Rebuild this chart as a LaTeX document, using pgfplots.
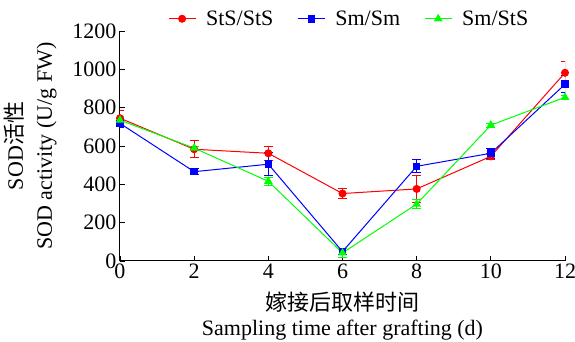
\documentclass[border=0pt]{standalone}
\usepackage{fontspec}
\setmainfont{Liberation Serif}
\newfontfamily\cjk{Noto Sans CJK SC}
\usepackage{pgfplots}
\pgfplotsset{compat=1.18}
\begin{document}
\begin{tikzpicture}
\begin{axis}[
  at={(0,0)}, anchor=origin,
  scale only axis, width=445pt, height=230pt,
  font=\fontsize{22}{26}\selectfont,
  xmin=0, xmax=12, ymin=0, ymax=1200,
  axis x line*=bottom, axis y line*=left,
  axis line style={line width=1pt},
  xtick={0,2,...,12}, ytick={0,200,...,1200},
  tick align=inside, major tick length=5pt,
  tick style={line width=0.8pt, black},
  xticklabels={0,2,4,6,8,10,12},
  yticklabels={0,200,400,600,800,1000,1200},
  every tick label/.append style={font=\fontsize{22}{26}\selectfont},
  xticklabel style={yshift=1pt},
  label style={font=\fontsize{22}{26}\selectfont},
  xlabel={{\cjk 嫁接后取样时间}\\[-1pt]Sampling time after grafting (d)},
  xlabel style={align=center, yshift=-7pt},
  ylabel={SOD{\cjk 活性}\\[3pt]SOD activity (U/g FW)},
  ylabel style={align=center, yshift=9pt},
  legend style={at={(0.515,1.0)}, anchor=south, draw=none, fill=none,
    font=\fontsize{22}{26}\selectfont, legend columns=3,
    /tikz/every even column/.append style={column sep=22pt},
    /tikz/every odd column/.append style={column sep=8pt}},
  legend image code/.code={\draw[mark repeat=2,mark phase=2] plot coordinates {(0pt,0pt) (13.5pt,0pt) (27pt,0pt)};},
  legend cell align=left,
  every axis plot/.append style={line width=1pt},
  error bars/error bar style={line width=1pt},
  error bars/error mark options={rotate=90, mark size=4.5pt, line width=1pt},
]
\addplot+[red, mark=*, mark size=3.5pt, mark options={fill=red},
  error bars/.cd, y dir=both, y explicit]
  table[x=x, y=y, y error=e] {
x y e
0 745 40
2 583 45
4 562 37
6 352 28
8 376 70
10 546 15
12 982 57
};
\addlegendentry{StS/StS}
\addplot+[blue, mark=square*, mark size=3.3pt, mark options={fill=blue},
  error bars/.cd, y dir=both, y explicit]
  table[x=x, y=y, y error=e] {
x y e
0 718 20
2 466 15
4 505 60
6 49 15
8 494 33
10 562 25
12 922 45
};
\addlegendentry{Sm/Sm}
\addplot+[green, mark=triangle*, mark size=4pt, mark options={fill=green},
  error bars/.cd, y dir=both, y explicit]
  table[x=x, y=y, y error=e] {
x y e
0 735 20
2 589 10
4 416 20
6 42 25
8 297 25
10 709 10
12 854 10
};
\addlegendentry{Sm/StS}
\end{axis}
\pgfresetboundingbox
\path (-120pt,-81pt) rectangle (455pt,261pt);
\end{tikzpicture}
\end{document}
